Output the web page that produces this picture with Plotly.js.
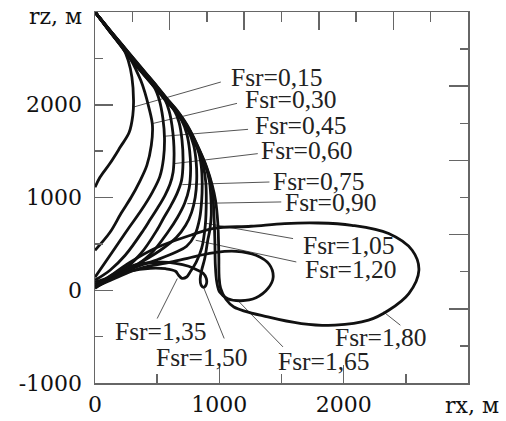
<!DOCTYPE html>
<html>
<head>
<meta charset="utf-8">
<script src="https://cdn.plot.ly/plotly-3.0.1.min.js"></script>
<style>html,body{margin:0;padding:0;background:#fff;}#chart{width:506px;height:421px;}</style>
</head>
<body>
<div id="chart"></div>
<script>
// Fsr values (labels)
const fsrLabels = ['0,15','0,30','0,45','0,60','0,75','0,90','1,05','1,20','1,35','1,50','1,65','1,80'];

// trajectories rx (m), rz (m)
const rx015 = [0,111,178,227,267,297,310,304,275,202,121,40,0];
const rz015 = [3000,2802,2694,2608,2478,2295,2047,1886,1703,1541,1369,1218,1110];

const rx030 = [0,112,223,292,332,368,401,433,462,453,417,356,291,210,121,0];
const rz030 = [3000,2802,2608,2478,2371,2263,2134,1972,1778,1563,1347,1164,1002,830,625,431];

const rx045 = [0,113,225,295,396,477,518,546,559,551,522,461,372,259,138,0];
const rz045 = [3000,2802,2608,2478,2317,2188,2047,1853,1638,1422,1228,1056,862,647,409,140];

const rx060 = [0,114,227,298,399,480,565,599,619,632,636,628,603,563,502,445,389,243,121,0];
const rz060 = [3000,2802,2608,2478,2317,2188,2047,1918,1778,1616,1455,1272,1142,1024,884,765,647,377,216,108];

const rx075 = [0,115,229,301,402,483,568,637,676,700,708,696,660,607,551,502,364,202,0];
const rz075 = [3000,2802,2608,2478,2317,2188,2047,1940,1810,1616,1379,1185,1045,905,776,657,388,194,86];

const rx090 = [0,116,231,304,406,487,572,640,697,737,761,769,757,721,664,591,445,243,0];
const rz090 = [3000,2802,2608,2478,2317,2188,2047,1940,1832,1692,1509,1293,1099,938,787,636,388,194,65];

const rx105 = [0,117,233,308,409,490,575,644,700,749,794,814,818,806,777,729,656,526,283,0];
const rz105 = [3000,2802,2608,2478,2317,2188,2047,1940,1832,1724,1563,1380,1185,1002,840,700,571,431,237,43];

const rx120 = [0,118,235,311,412,493,578,647,704,752,829,854,862,858,842,802,737,648,510,283,0];
const rz120 = [3000,2802,2608,2478,2317,2188,2047,1940,1832,1724,1509,1347,1164,970,776,593,474,409,334,226,32];

const rx135 = [0,119,237,314,415,496,581,650,707,755,832,870,891,895,887,858,814,769,737,700,672,648,567,445,283,121,0];
const rz135 = [3000,2802,2608,2478,2317,2188,2047,1940,1832,1724,1509,1347,1164,970,700,453,302,205,143,129,162,205,232,237,205,119,22];

const rx150 = [0,120,239,317,419,500,585,653,710,759,836,887,919,931,935,923,907,883,858,846,854,874,895,895,870,826,753,648,526,283,121,0];
const rz150 = [3000,2802,2608,2478,2317,2188,2047,1940,1832,1724,1509,1347,1185,1024,808,647,539,345,216,119,54,32,65,129,183,216,259,291,302,259,151,32];

const rx165 = [0,120,241,321,422,503,588,657,713,762,839,896,943,955,964,968,980,1004,1069,1174,1295,1393,1433,1401,1295,1134,972,810,607,364,162,0];
const rz165 = [3000,2802,2608,2478,2317,2188,2047,1940,1832,1724,1509,1325,1099,862,539,269,86,-22,-92,-113,-81,22,140,280,377,420,409,366,302,237,129,32];

const rx180 = [0,121,243,324,425,506,591,660,717,765,842,899,943,969,988,996,998,1010,1053,1117,1390,1660,1930,2200,2362,2524,2605,2551,2362,2065,1795,1525,1255,955,769,502,283,121,0];
const rz180 = [3000,2802,2608,2478,2317,2188,2047,1940,1832,1724,1509,1325,1131,970,722,356,151,22,-97,-180,-288,-359,-377,-323,-216,-36,216,431,611,700,725,719,690,668,593,463,302,151,32];

// label anchor points (rx, rz) for the Fsr texts
const labelRx = [1077,1188,1269,1322,1417,1512,1660,1674,148,472,1457,1917];
const labelRz = [2290,2058,1778,1509,1175,948,485,226,-442,-722,-765,-506];

// leader lines: from curve point to label
const leadX0 = [310,459,553,634,702,742,891,810,662,877,1147,2321];
const leadZ0 = [1975,1796,1660,1365,1139,934,722,539,126,18,-108,-234];
const leadX1 = [1012,1142,1231,1309,1403,1498,1593,1619,500,1039,1512,2456];
const leadZ1 = [2245,2015,1735,1473,1167,952,557,305,-305,-520,-611,-377];

// axis ticks
const xTickVals = [0,1000,2000];
const xTickText = ['0','1000','2000'];
const xMinorVals = [500,1500,2500];
const yTickVals = [-1000,0,1000,2000];
const yTickText = ['-1000','0','1000','2000'];
const yMinorVals = [-500,500,1500,2500];
const topMajor = [600,1200,1800,2400];
const topMinor = [300,900,1500,2100,2700];
const rightMajor = [2200,1400,600,-200];
const rightMinor = [2600,1800,1000,200,-600];

const curvesX = [rx015,rx030,rx045,rx060,rx075,rx090,rx105,rx120,rx135,rx150,rx165,rx180];
const curvesZ = [rz015,rz030,rz045,rz060,rz075,rz090,rz105,rz120,rz135,rz150,rz165,rz180];

const traces = [];
// leaders first (below curves)
const lx = [], lz = [];
leadX0.forEach((v, i) => { lx.push(v, leadX1[i], null); lz.push(leadZ0[i], leadZ1[i], null); });
traces.push({x: lx, y: lz, mode: 'lines', type: 'scatter', line: {color: '#555', width: 1}, hoverinfo: 'skip', showlegend: false});
curvesX.forEach((cx, i) => {
  traces.push({
    x: cx, y: curvesZ[i], mode: 'lines', type: 'scatter',
    line: {color: '#111', width: 2.8, shape: 'spline', smoothing: 1},
    hoverinfo: 'skip', showlegend: false
  });
});
// empty trace to register the mirrored frame axes
traces.push({x: [], y: [], xaxis: 'x2', yaxis: 'y2', type: 'scatter', mode: 'lines', showlegend: false, hoverinfo: 'skip'});

const tickFont = {family: 'DejaVu Serif', size: 22, color: '#111'};
const frameCol = '#666';

const annotations = fsrLabels.map((t, i) => ({
  x: labelRx[i], y: labelRz[i], xref: 'x', yref: 'y', text: 'Fsr=' + t,
  showarrow: false, xanchor: 'left', yanchor: 'middle',
  font: {family: 'Liberation Serif', size: 25.5, color: '#222'}
}));
annotations.push({x: -0.107, y: 0.988, xref: 'paper', yref: 'paper', text: 'rz, м', showarrow: false,
  xanchor: 'center', yanchor: 'middle', font: {family: 'DejaVu Serif', size: 22, color: '#111'}});
annotations.push({x: 1.010, y: -0.060, xref: 'paper', yref: 'paper', text: 'rx, м', showarrow: false,
  xanchor: 'center', yanchor: 'middle', font: {family: 'DejaVu Serif', size: 22, color: '#111'}});

const layout = {
  width: 506, height: 421,
  margin: {l: 95, r: 38, t: 12, b: 38, pad: 0},
  paper_bgcolor: '#fff', plot_bgcolor: '#fff',
  showlegend: false,
  xaxis: {
    range: [0, 3000], showgrid: false, zeroline: false, showline: true, linecolor: frameCol, linewidth: 1.5,
    tickmode: 'array', tickvals: xTickVals, ticktext: xTickText, ticks: 'inside', ticklen: 18, tickwidth: 1.5, tickcolor: frameCol,
    tickfont: tickFont, ticklabelstandoff: 1,
    minor: {tickmode: 'array', tickvals: xMinorVals, ticks: 'inside', ticklen: 9, tickwidth: 1.5, tickcolor: frameCol, showgrid: false}
  },
  yaxis: {
    range: [-1000, 3000], showgrid: false, zeroline: false, showline: true, linecolor: frameCol, linewidth: 1.5,
    tickmode: 'array', tickvals: yTickVals, ticktext: yTickText, ticks: 'inside', ticklen: 18, tickwidth: 1.5, tickcolor: frameCol,
    tickfont: tickFont, ticklabelstandoff: 7,
    minor: {tickmode: 'array', tickvals: yMinorVals, ticks: 'inside', ticklen: 8, tickwidth: 1.5, tickcolor: frameCol, showgrid: false}
  },
  xaxis2: {
    overlaying: 'x', side: 'top', anchor: 'y2', range: [0, 3000], showgrid: false, zeroline: false,
    showline: true, linecolor: frameCol, linewidth: 1.5, showticklabels: false,
    tickmode: 'array', tickvals: topMajor, ticks: 'inside', ticklen: 18, tickwidth: 1.5, tickcolor: frameCol,
    minor: {tickmode: 'array', tickvals: topMinor, ticks: 'inside', ticklen: 10, tickwidth: 1.5, tickcolor: frameCol, showgrid: false}
  },
  yaxis2: {
    overlaying: 'y', side: 'right', anchor: 'x2', range: [-1000, 3000], showgrid: false, zeroline: false,
    showline: true, linecolor: frameCol, linewidth: 1.5, showticklabels: false,
    tickmode: 'array', tickvals: rightMajor, ticks: 'inside', ticklen: 19, tickwidth: 1.5, tickcolor: frameCol,
    minor: {tickmode: 'array', tickvals: rightMinor, ticks: 'inside', ticklen: 8, tickwidth: 1.5, tickcolor: frameCol, showgrid: false}
  },
  annotations: annotations
};

Plotly.newPlot('chart', traces, layout, {staticPlot: true, displayModeBar: false});
</script>
</body>
</html>
